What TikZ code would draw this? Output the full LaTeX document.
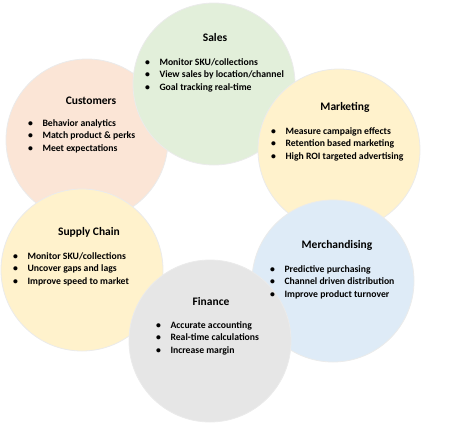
\documentclass[tikz,border=0pt]{standalone}
\usepackage{fontspec}
\setmainfont{Carlito}
\definecolor{cgreen}{RGB}{226,239,218}
\definecolor{cpink}{RGB}{251,229,214}
\definecolor{cyellow}{RGB}{255,242,204}
\definecolor{cblue}{RGB}{222,235,247}
\definecolor{cgray}{RGB}{230,230,230}
\begin{document}
\begin{tikzpicture}[x=1pt,y=-1pt,
  blob/.style={circle,minimum size=162pt,inner sep=0pt,draw=black!8,line width=0.8pt},
  ttl/.style={font=\fontsize{11.5}{12}\selectfont\bfseries,inner sep=0pt},
  lst/.style={font=\fontsize{9.7}{12.6}\selectfont\bfseries,inner sep=0pt,anchor=north west,align=left}]
\useasboundingbox (0,0) rectangle (470,423);
\newcommand{\blist}[3]{\begin{tabular}{@{}l@{\hspace{9.5pt}}l@{}}\textbullet&#1\\\textbullet&#2\\\textbullet&#3\end{tabular}}
\node[blob,fill=cpink] (cus) at (87,140) {};
\node[blob,fill=cgreen] (sal) at (214,84) {};
\node[blob,fill=cyellow] (mkt) at (339,150) {};
\node[blob,fill=cblue] (mer) at (333,281) {};
\node[blob,fill=cyellow] (sup) at (82,270) {};
\node[blob,fill=cgray] (fin) at (210,341) {};
\node[ttl] (salt) at (215,38) {Sales};
\node[lst] (sall) at (145,56) {\blist{Monitor SKU/collections}{View sales by location/channel}{Goal tracking real-time}};
\node[ttl] (cust) at (91,101) {Customers};
\node[lst] (cusl) at (28,117) {\blist{Behavior analytics}{Match product \& perks}{Meet expectations}};
\node[ttl] (mktt) at (345,107) {Marketing};
\node[lst] (mktl) at (271,125) {\blist{Measure campaign effects}{Retention based marketing}{High ROI targeted advertising}};
\node[ttl] (supt) at (89,232) {Supply Chain};
\node[lst] (supl) at (13,250) {\blist{Monitor SKU/collections}{Uncover gaps and lags}{Improve speed to market}};
\node[ttl] (mert) at (337,245) {Merchandising};
\node[lst] (merl) at (270,263) {\blist{Predictive purchasing}{Channel driven distribution}{Improve product turnover}};
\node[ttl] (fint) at (211,302) {Finance};
\node[lst] (finl) at (156,319) {\blist{Accurate accounting}{Real-time calculations}{Increase margin}};
\end{tikzpicture}
\end{document}
